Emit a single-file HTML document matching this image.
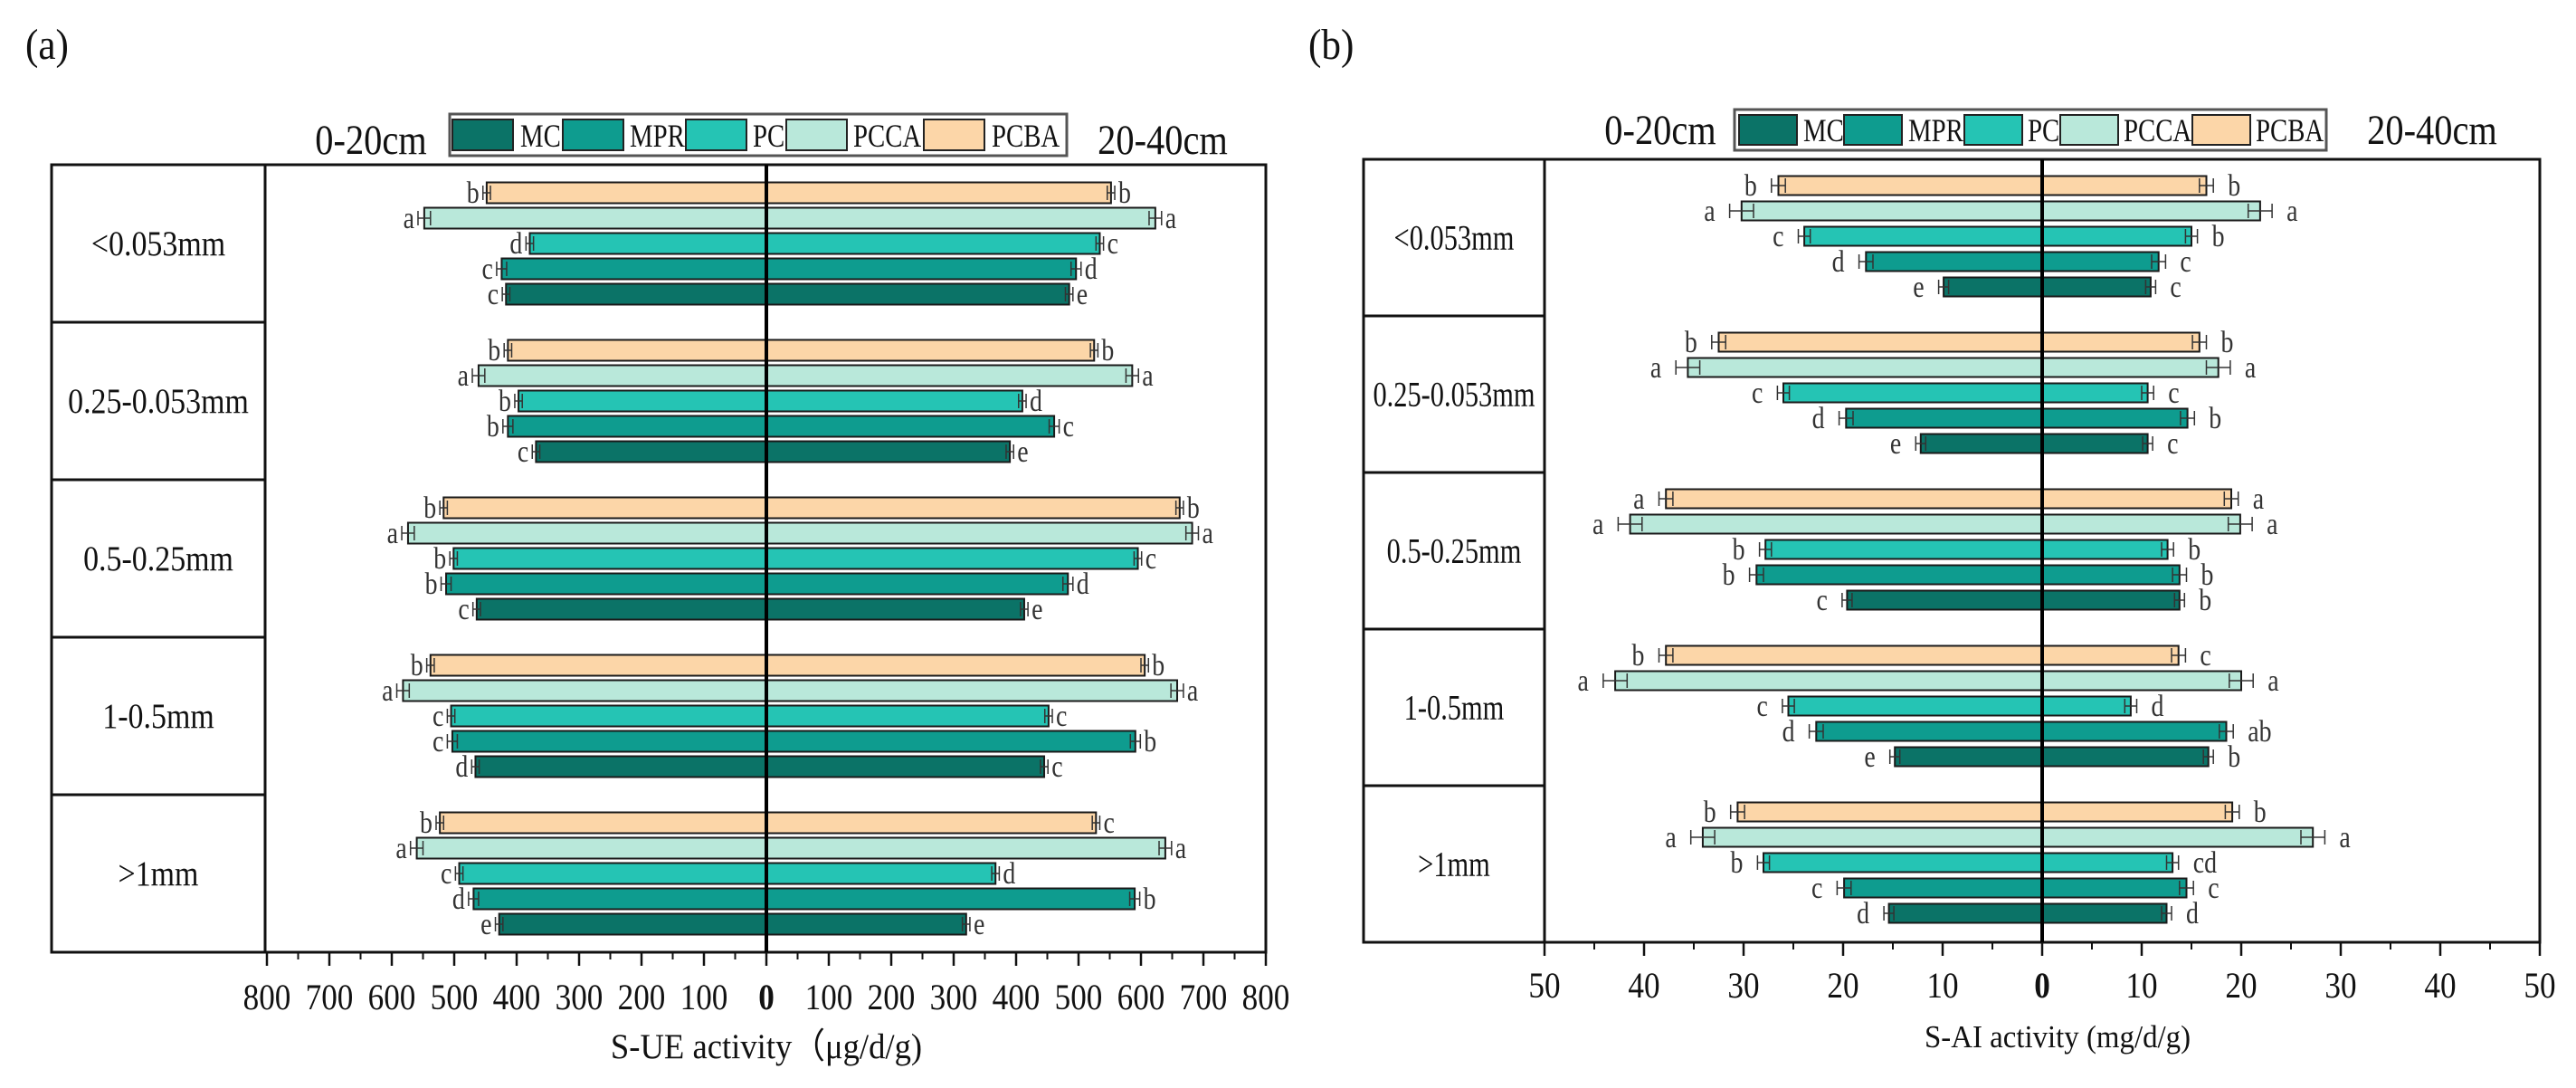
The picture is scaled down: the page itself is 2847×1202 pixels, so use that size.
<!DOCTYPE html>
<html><head><meta charset="utf-8"><style>
html,body{margin:0;padding:0;background:#fff;}
svg{display:block;font-family:"Liberation Serif",serif;}
</style></head><body>
<svg id="fig" width="2847" height="1202" viewBox="0 0 2847 1202" xmlns="http://www.w3.org/2000/svg"></svg>
<script>
// ===== data =====
const categories = ["<0.053mm","0.25-0.053mm","0.5-0.25mm","1-0.5mm",">1mm"];
const seriesNames = ["MC","MPR","PC","PCCA","PCBA"];
const seriesColors = ["#0b7367","#0e9c8f","#25c4b4","#b9e8da","#fcd6a8"];
// S-UE (0-20cm, left)
const ueLeftMC   = [417,369,464,466,428];
const ueLeftMPR  = [424,414,513,503,469];
const ueLeftPC   = [379,397,501,505,492];
const ueLeftPCCA = [548,461,574,582,560];
const ueLeftPCBA = [448,414,517,538,523];
// S-UE (20-40cm, right)
const ueRightMC   = [485,390,413,445,320];
const ueRightMPR  = [496,461,483,591,590];
const ueRightPC   = [534,410,595,452,367];
const ueRightPCCA = [623,586,682,658,639];
const ueRightPCBA = [552,525,662,606,528];
const ueErr = [6,8,6,10,6];
const ueLeftLetters  = [["c","c","c","d","e"],["c","b","b","c","d"],["d","b","b","c","c"],["a","a","a","a","a"],["b","b","b","b","b"]];
const ueRightLetters = [["e","e","e","c","e"],["d","c","d","b","b"],["c","d","c","c","d"],["a","a","a","a","a"],["b","b","b","b","c"]];
// S-AI (0-20cm, left)
const aiLeftMC   = [9.9,12.2,19.6,14.8,15.4];
const aiLeftMPR  = [17.7,19.7,28.7,22.7,19.9];
const aiLeftPC   = [23.9,26.0,27.8,25.5,28.0];
const aiLeftPCCA = [30.2,35.6,41.4,42.9,34.1];
const aiLeftPCBA = [26.5,32.5,37.8,37.8,30.6];
// S-AI (20-40cm, right)
const aiRightMC   = [10.9,10.6,13.8,16.7,12.5];
const aiRightMPR  = [11.7,14.6,13.8,18.5,14.5];
const aiRightPC   = [15.0,10.6,12.6,8.9,13.1];
const aiRightPCCA = [21.9,17.7,19.9,20.0,27.2];
const aiRightPCBA = [16.5,15.8,19.0,13.7,19.1];
const aiErr = [0.5,0.7,0.6,1.2,0.7];
const aiLeftLetters  = [["e","e","c","e","d"],["d","d","b","d","c"],["c","c","b","c","b"],["a","a","a","a","a"],["b","b","a","b","b"]];
const aiRightLetters = [["c","c","b","b","d"],["c","b","b","ab","c"],["b","c","b","d","cd"],["a","a","a","a","a"],["b","b","a","c","b"]];
const ueTicks = [800,700,600,500,400,300,200,100,0,100,200,300,400,500,600,700,800];
const aiTicks = [50,40,30,20,10,0,10,20,30,40,50];

// ===== helpers =====
const NS="http://www.w3.org/2000/svg";
const svg=document.getElementById('fig');
function el(tag,attrs,parent){const e=document.createElementNS(NS,tag);for(const k in attrs)e.setAttribute(k,attrs[k]);(parent||svg).appendChild(e);return e;}
function txt(str,x,y,fs,anchor,sx,parent,weight){
  const t=el('text',{x:0,y:0,'font-size':fs,'text-anchor':anchor||'middle',transform:`translate(${x},${y}) scale(${sx||0.8},1)`,fill:'#111'},parent);
  if(weight)t.setAttribute('font-weight',weight);
  t.textContent=str;return t;
}

function panel(cfg){
  const g=el('g',{});
  
  
  const scale=v=>v*(cfg.right-cfg.cx)/cfg.max;
  const rowH=(cfg.bottom-cfg.top)/categories.length;
  const fr=el('rect',{x:cfg.outer,y:cfg.top,width:cfg.right-cfg.outer,height:cfg.bottom-cfg.top,fill:'none',stroke:'#111','stroke-width':3},g);
  
  
  const dv=el('line',{x1:cfg.divider,x2:cfg.divider,y1:cfg.top,y2:cfg.bottom,stroke:'#111','stroke-width':3},g);
  
  
  categories.forEach((c,i)=>{
    const y0=cfg.top+i*rowH;
    if(i>0){const l=el('line',{x1:cfg.outer,x2:cfg.divider,y1:y0,y2:y0,stroke:'#111','stroke-width':3},g);
      
      }
    const t=txt(c,(cfg.outer+cfg.divider)/2,y0+rowH/2+13,39,'middle',cfg.rowSx,g);
    
    
  });
  const order=[4,3,2,1,0];
  categories.forEach((c,i)=>{
    order.forEach((s,k)=>{
      const yc=cfg.top+i*rowH+cfg.firstOff+k*cfg.step;
      [['left',cfg.left[s][i],cfg.leftLetters[s][i]],['right',cfg.rightV[s][i],cfg.rightLetters[s][i]]].forEach(([side,v,let])=>{
        const w=scale(v), e=scale(cfg.err[s]);
        const x=side==='left'?cfg.cx-w:cfg.cx;
        const r=el('rect',{x:x,y:yc-cfg.barH/2,width:w,height:cfg.barH,fill:seriesColors[s],stroke:'#1a1a1a','stroke-width':2},g);
        
        
        const xe=side==='left'?cfg.cx-w:cfg.cx+w;
        const dir=side==='left'?-1:1;
        const eb=el('path',{d:`M${xe-e} ${yc} H${xe+e} M${xe-e} ${yc-8} V${yc+8} M${xe+e} ${yc-8} V${yc+8}`,stroke:'#333','stroke-width':1.5,fill:'none'},g);
        
        
        const lt=txt(let,xe+dir*(e+cfg.letGap),yc+11,34,side==='left'?'end':'start',0.82,g);
        lt.setAttribute('fill','#333');
        
        
      });
    });
  });
  const cl=el('line',{x1:cfg.cx,x2:cfg.cx,y1:cfg.top,y2:cfg.bottom,stroke:'#000','stroke-width':4},g);
  
  
  const n=cfg.ticks.length;
  cfg.ticks.forEach((tv,j)=>{
    const signed=j<(n-1)/2?-tv:tv;
    const x=cfg.cx+scale(signed);
    el('line',{x1:x,x2:x,y1:cfg.bottom,y2:cfg.bottom+15,stroke:'#111','stroke-width':2.5},g);
    if(j<n-1){const xm=cfg.cx+scale(signed+cfg.minor);
      el('line',{x1:xm,x2:xm,y1:cfg.bottom,y2:cfg.bottom+8,stroke:'#111','stroke-width':2},g);}
    const t=txt(String(tv),x,cfg.tickY,40,'middle',0.88,g,tv===0?'bold':null);
    
    
  });
  const xt=txt(cfg.title,cfg.cx+cfg.titleDx,cfg.titleY,cfg.titleFs,'middle',0.94,g);
  
  
  const d1=txt('0-20cm',cfg.d1x,cfg.dY,47,'middle',0.86,g);
  
  
  const d2=txt('20-40cm',cfg.d2x,cfg.dY,47,'middle',0.86,g);
  
  
  const lg=el('g',{},g);
  
  
  el('rect',{x:cfg.lg.x,y:cfg.lg.y,width:cfg.lg.w,height:cfg.lg.h,fill:'#fff',stroke:'#555','stroke-width':3},lg);
  seriesNames.forEach((nm,s)=>{
    const sw=el('rect',{x:cfg.lg.sw[s],y:cfg.lg.y+6,width:cfg.lg.swW,height:cfg.lg.h-12,fill:seriesColors[s],stroke:'#222','stroke-width':2},lg);
    
    
    const t=txt(nm,cfg.lg.tx[s],cfg.lg.y+cfg.lg.h-10,36,'start',0.8,lg);
    
    
  });
  const pl=txt(cfg.panelLabel,cfg.plx,65,48,'start',0.9,g);
  
  
}

panel({name:'panel-a-s-ue',panelLabel:'(a)',plx:28,outer:57,divider:293,cx:847,right:1399,top:182,bottom:1052,max:800,minor:50,
  firstOff:31,step:28,barH:23,letGap:4,rowSx:0.87,
  left:[ueLeftMC,ueLeftMPR,ueLeftPC,ueLeftPCCA,ueLeftPCBA],
  rightV:[ueRightMC,ueRightMPR,ueRightPC,ueRightPCCA,ueRightPCBA],
  leftLetters:ueLeftLetters,rightLetters:ueRightLetters,err:ueErr,
  ticks:ueTicks,tickY:1115,title:'S-UE activity（μg/d/g)',titleDx:0,titleY:1169,titleFs:39,
  d1x:410,d2x:1285,dY:170,
  lg:{x:497,y:126,w:682,h:46,swW:67,sw:[500,622,758,869,1021],tx:[575,696,832,943,1096]}});

panel({name:'panel-b-s-ai',panelLabel:'(b)',plx:1446,outer:1507,divider:1707,cx:2257,right:2807,top:176,bottom:1041,max:50,minor:5,
  firstOff:29,step:28,barH:21,letGap:16,rowSx:0.78,
  left:[aiLeftMC,aiLeftMPR,aiLeftPC,aiLeftPCCA,aiLeftPCBA],
  rightV:[aiRightMC,aiRightMPR,aiRightPC,aiRightPCCA,aiRightPCBA],
  leftLetters:aiLeftLetters,rightLetters:aiRightLetters,err:aiErr,
  ticks:aiTicks,tickY:1102,title:'S-AI activity (mg/d/g)',titleDx:17,titleY:1157,titleFs:35,
  d1x:1835,d2x:2688,dY:159,
  lg:{x:1917,y:121,w:654,h:45,swW:64,sw:[1922,2038,2171,2277,2423],tx:[1993,2109,2241,2347,2493]}});
</script>
</body></html>
